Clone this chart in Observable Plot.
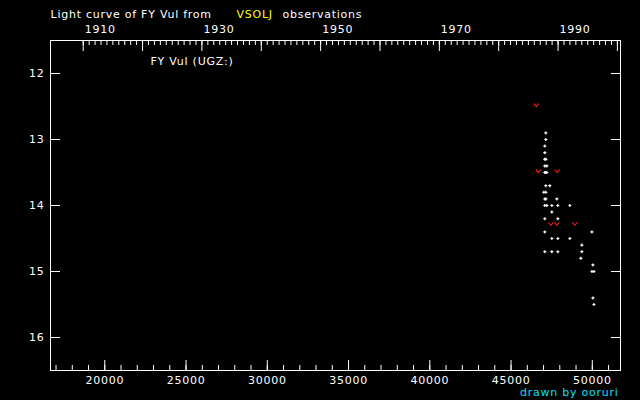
<!DOCTYPE html>
<html>
<head>
<meta charset="utf-8">
<script src="https://cdn.jsdelivr.net/npm/d3@7"></script>
<script src="https://cdn.jsdelivr.net/npm/@observablehq/plot@0.6"></script>
<style>
  html, body { margin: 0; padding: 0; background: #000; }
  #chart svg { display: block; }
</style>
</head>
<body>
<div id="chart"></div>
<script>
// ---- Data (JD - 2400000, visual magnitude) ----
const obsJD  = [47140, 47140, 47078, 47078, 47078, 47140, 47078, 47201, 47078, 47140, 47201,
                47140, 47386, 47017, 47140, 47078, 47140, 47817, 47078, 47201, 47509, 47878,
                48617, 47509, 47078, 47878, 47078, 49975, 47509, 47878, 48617, 49355, 47078,
                47509, 47878, 49355, 49294, 50037, 49975, 50098, 50037, 50098];
const obsMag = [12.9, 13.0, 13.1, 13.2, 13.3, 13.3, 13.4, 13.4, 13.5, 13.5, 13.5,
                13.7, 13.7, 13.8, 13.8, 13.9, 13.9, 13.9, 14.0, 14.0, 14.0, 14.0,
                14.0, 14.1, 14.2, 14.2, 14.4, 14.4, 14.5, 14.5, 14.5, 14.6, 14.7,
                14.7, 14.7, 14.7, 14.8, 14.9, 15.0, 15.0, 15.4, 15.5];
// fainter-than (upper limit) observations
const limJD  = [46549, 46672, 47842, 47449, 47817, 48925];
const limMag = [12.5, 13.5, 13.5, 14.3, 14.3, 14.3];

// ---- Ticks & labels ----
const magTicks   = [12, 13, 14, 15, 16];
const jdLabels   = [20000, 25000, 30000, 35000, 40000, 45000, 50000];
const jdMinor    = d3.range(17000, 51001, 1000);
const yearLabels = [1910, 1930, 1950, 1970, 1990];
const yearMajor  = [1910, 1920, 1930, 1940, 1950, 1960, 1970, 1980, 1990, 2000];
const yearMinor  = d3.range(1910, 2001);
const titleParts = ["Light curve of FY Vul from", "VSOLJ", "observations"];
const starLabel  = "FY Vul (UGZ:)";
const credit     = "drawn by ooruri";

const jdOfYear = y => Date.UTC(y, 0, 1) / 86400000 + 2440587.5 - 2400000;

const obs = obsJD.map((jd, i) => ({jd, mag: obsMag[i]}));
const lim = limJD.map((jd, i) => ({jd, mag: limMag[i]}));

const plusSymbol = {draw(ctx) { ctx.moveTo(-1.5, 0); ctx.lineTo(1.5, 0); ctx.moveTo(0, -1.5); ctx.lineTo(0, 1.5); }};
const vSymbol = {draw(ctx) { ctx.moveTo(-2.5, -1.5); ctx.lineTo(0, 1.5); ctx.lineTo(2.5, -1.5); }};

const W = "white";
const txt = {fill: W, fontSize: 11};

const chart = Plot.plot({
  width: 640,
  height: 400,
  marginLeft: 50,
  marginRight: 20,
  marginTop: 40,
  marginBottom: 30,
  style: {background: "#000", color: W, fontFamily: "DejaVu Sans", fontSize: "11px", letterSpacing: "0.75px"},
  x: {domain: [16660, 51735], label: null},
  y: {domain: [11.5, 16.5], reverse: true, label: null},
  marks: [
    Plot.frame({stroke: W}),
    // bottom JD ticks (inward)
    Plot.axisX(jdMinor, {anchor: "bottom", tickSize: -5, fill: "none", stroke: W, label: null}),
    Plot.axisX(jdLabels, {anchor: "bottom", tickSize: -10, fill: "none", stroke: W, label: null}),
    Plot.text(jdLabels, {x: d => d, text: d => String(d), frameAnchor: "bottom", lineAnchor: "top", dy: 6, ...txt}),
    // top year ticks (inward)
    Plot.axisX(yearMinor.map(jdOfYear), {anchor: "top", tickSize: -4, fill: "none", stroke: W, label: null}),
    Plot.axisX(yearMajor.map(jdOfYear), {anchor: "top", tickSize: -10, fill: "none", stroke: W, label: null}),
    Plot.text(yearLabels, {x: jdOfYear, text: d => String(d), frameAnchor: "top", lineAnchor: "bottom", textAnchor: "start", dx: 1.5, dy: -8, ...txt}),
    // magnitude ticks (inward, both sides)
    Plot.axisY(magTicks, {anchor: "left", tickSize: -10, fill: "none", stroke: W, label: null}),
    Plot.axisY(magTicks, {anchor: "right", tickSize: -10, fill: "none", stroke: W, label: null}),
    Plot.text(magTicks, {y: d => d, text: d => String(d), frameAnchor: "left", textAnchor: "end", dx: -6, ...txt}),
    // data
    Plot.dot(obs, {x: "jd", y: "mag", symbol: plusSymbol, fill: "none", stroke: W, strokeWidth: 1.2}),
    Plot.dot(lim, {x: "jd", y: "mag", symbol: vSymbol, fill: "none", stroke: "#e01818", strokeWidth: 1.2, dy: -1.5}),
    // texts
    Plot.text([titleParts[0]], {text: d => d, frameAnchor: "top-left", textAnchor: "start", lineAnchor: "bottom", dy: -23, ...txt}),
    Plot.text([titleParts[1]], {text: d => d, frameAnchor: "top-left", textAnchor: "start", lineAnchor: "bottom", dx: 186, dy: -23, fill: "#ffff00", fontSize: 11}),
    Plot.text([titleParts[2]], {text: d => d, frameAnchor: "top-left", textAnchor: "start", lineAnchor: "bottom", dx: 232, dy: -23, ...txt}),
    Plot.text([starLabel], {text: d => d, frameAnchor: "top-left", textAnchor: "start", lineAnchor: "bottom", dx: 100, dy: 24.5, ...txt}),
    Plot.text([credit], {text: d => d, frameAnchor: "bottom-right", textAnchor: "end", lineAnchor: "bottom", dx: -2, dy: 25.5, fill: "#00e0ff", fontSize: 11})
  ]
});

document.getElementById("chart").appendChild(chart);
</script>
</body>
</html>
